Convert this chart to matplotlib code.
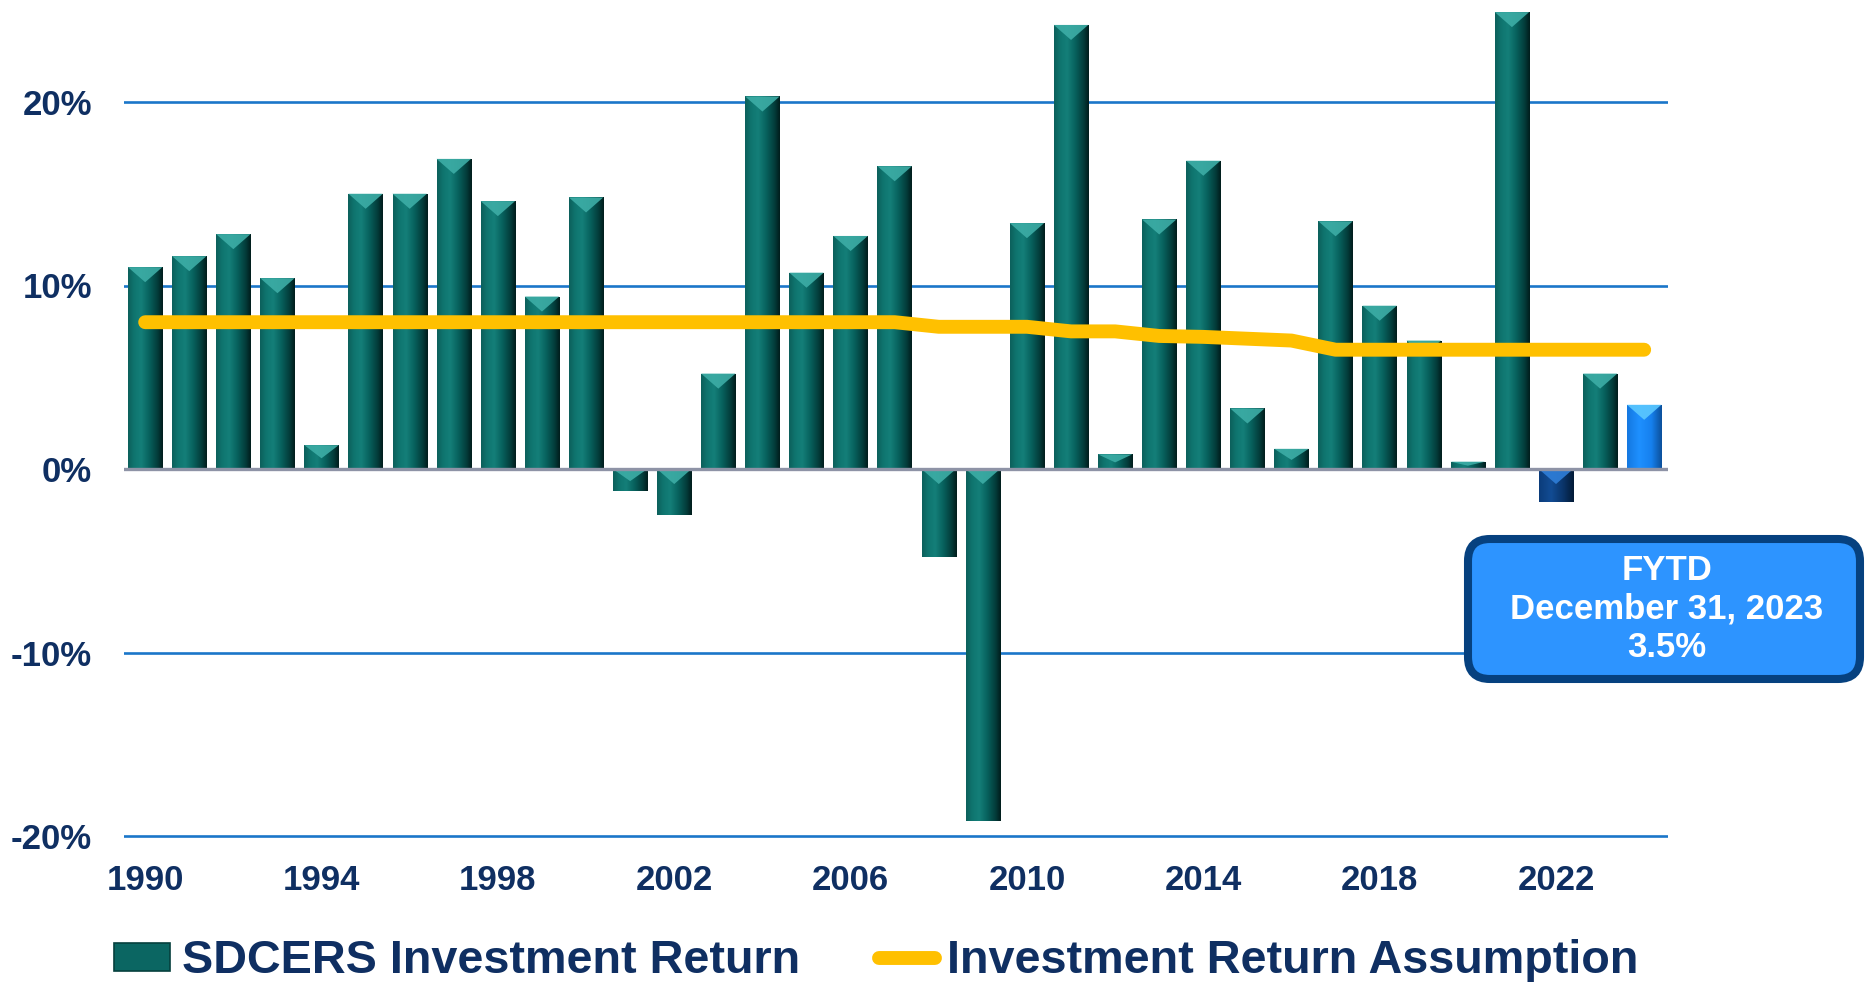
import numpy as np
import matplotlib
matplotlib.use("Agg")
import matplotlib.pyplot as plt
from matplotlib.colors import LinearSegmentedColormap
from matplotlib.patches import FancyBboxPatch, Polygon, Patch
from matplotlib.lines import Line2D

# ---------------- data ----------------
years = [1990, 1991, 1992, 1993, 1994, 1995, 1996, 1997, 1998, 1999,
         2000, 2001, 2002, 2003, 2004, 2005, 2006, 2007, 2008, 2009,
         2010, 2011, 2012, 2013, 2014, 2015, 2016, 2017, 2018, 2019,
         2020, 2021, 2022, 2023, 2024]
returns = [11.0, 11.6, 12.8, 10.4, 1.3, 15.0, 15.0, 16.9, 14.6, 9.4,
           14.8, -1.2, -2.5, 5.2, 20.3, 10.7, 12.7, 16.5, -4.8, -19.2,
           13.4, 24.2, 0.8, 13.6, 16.8, 3.3, 1.1, 13.5, 8.9, 7.0,
           0.4, 24.9, -1.8, 5.2, 3.5]
assumption = [8.0, 8.0, 8.0, 8.0, 8.0, 8.0, 8.0, 8.0, 8.0, 8.0,
              8.0, 8.0, 8.0, 8.0, 8.0, 8.0, 8.0, 8.0, 7.75, 7.75,
              7.75, 7.5, 7.5, 7.25, 7.2, 7.1, 7.0, 6.5, 6.5, 6.5,
              6.5, 6.5, 6.5, 6.5, 6.5]
xticks = [1990, 1994, 1998, 2002, 2006, 2010, 2014, 2018, 2022]
yticks = [-20, -10, 0, 10, 20]
ytick_labels = ["-20%", "-10%", "0%", "10%", "20%"]
series_names = ["SDCERS Investment Return", "Investment Return Assumption"]
callout_lines = ["FYTD", "December 31, 2023", "3.5%"]

# ---------------- style ----------------
FONT = "Liberation Sans"
NAVY = "#0F2F62"
GRID = "#1A76C9"
YELLOW = "#FFC000"
W, H = 1866, 982

teal_cmap = LinearSegmentedColormap.from_list(
    "teal", [(0.0, "#0C5F5B"), (0.18, "#0F756F"), (0.38, "#147F79"),
             (0.62, "#07605C"), (0.85, "#033C3A"), (1.0, "#011C1B")])
dark_cmap = LinearSegmentedColormap.from_list(
    "darkblue", [(0.0, "#0B3C7A"), (0.35, "#124C94"), (0.7, "#0A3468"),
                 (1.0, "#031A36")])
fytd_cmap = LinearSegmentedColormap.from_list(
    "fytd", [(0.0, "#1478E0"), (0.35, "#1E90FF"), (0.7, "#1680EE"),
             (1.0, "#0B4F9A")])
special = {2022: (dark_cmap, "#2F7ED8"), 2024: (fytd_cmap, "#5BC8FF")}
default_style = (teal_cmap, "#3DADA6")

fig = plt.figure(figsize=(W / 100, H / 100), dpi=100)
px_per_unit = 18.35
y_lo, y_hi = -20.5, 25.0
bottom_px = 469 + (-y_lo) * px_per_unit
top_px = 469 - y_hi * px_per_unit
ax = fig.add_axes([124 / W, 1 - bottom_px / H, (1668 - 124) / W,
                   (bottom_px - top_px) / H])
xlim = (1989.52, 2024.54)

# gridlines
for t in yticks:
    if t == 0:
        ax.axhline(t, color="#8E93A6", lw=2.4, zorder=3)
    else:
        ax.axhline(t, color=GRID, lw=1.9, zorder=0)

bar_width = 0.78
bars = ax.bar(years, returns, width=bar_width, color="#0B6662",
              edgecolor="none", zorder=2)

grad = np.linspace(0, 1, 256).reshape(1, -1)
tri_max = 0.82
for yr, patch in zip(years, bars.patches):
    cmap, tri_color = special.get(yr, default_style)
    x0 = patch.get_x()
    w = patch.get_width()
    y0 = patch.get_y()
    h = patch.get_height()
    ylo, yhi = min(y0, y0 + h), max(y0, y0 + h)
    im = ax.imshow(grad, cmap=cmap, extent=[x0, x0 + w, ylo, yhi],
                   aspect="auto", interpolation="bicubic", zorder=2)
    im.set_clip_path(patch)
    th = min(tri_max, (yhi - ylo) * 0.55)
    tri = Polygon([(x0, yhi), (x0 + w, yhi), (x0 + w / 2, yhi - th)],
                  closed=True, facecolor=tri_color, edgecolor="none",
                  alpha=0.9, zorder=2.5)
    ax.add_patch(tri)

ax.plot(years, assumption, color=YELLOW, lw=10, solid_capstyle="round",
        solid_joinstyle="round", zorder=5)

ax.set_xlim(*xlim)
ax.set_ylim(y_lo, y_hi)
ax.set_aspect("auto")
ax.set_xticks(xticks)
ax.set_xticklabels([str(x) for x in xticks])
ax.set_yticks(yticks)
ax.set_yticklabels(ytick_labels)
ax.tick_params(axis="both", length=0, labelsize=25, labelcolor=NAVY)
ax.tick_params(axis="y", pad=23)
ax.tick_params(axis="x", pad=13.5)
for lab in ax.get_xticklabels() + ax.get_yticklabels():
    lab.set_fontfamily(FONT)
    lab.set_fontweight("bold")
for s in ax.spines.values():
    s.set_visible(False)
ax.patch.set_alpha(0)

# legend
handles = [Patch(facecolor="#0B6662", edgecolor="#06403D", lw=1.2),
           Line2D([], [], color=YELLOW, lw=10, solid_capstyle="round")]
leg = fig.legend(handles, series_names, loc="center",
                 bbox_to_anchor=(0.4695, 0.021), ncol=2, frameon=False,
                 prop=dict(family=FONT, weight="bold", size=33.7),
                 labelcolor=NAVY, handlelength=1.2, handleheight=0.55,
                 handletextpad=0.25, columnspacing=1.7, borderpad=0.2)

# callout box (inches, isotropic)
box = FancyBboxPatch((14.68, (982 - 679) / 100), 3.92, 1.40,
                     boxstyle="round,pad=0,rounding_size=0.22",
                     transform=fig.dpi_scale_trans, facecolor="#2D94FF",
                     edgecolor="#06417F", lw=5.8, zorder=10)
fig.patches.append(box)
fig.text(1667 / W, 1 - 609 / H, "\n".join(callout_lines), ha="center",
         va="center", color="white", fontsize=25, fontweight="bold",
         family=FONT, linespacing=1.2, zorder=11)

fig.savefig("out.png", dpi=100)
